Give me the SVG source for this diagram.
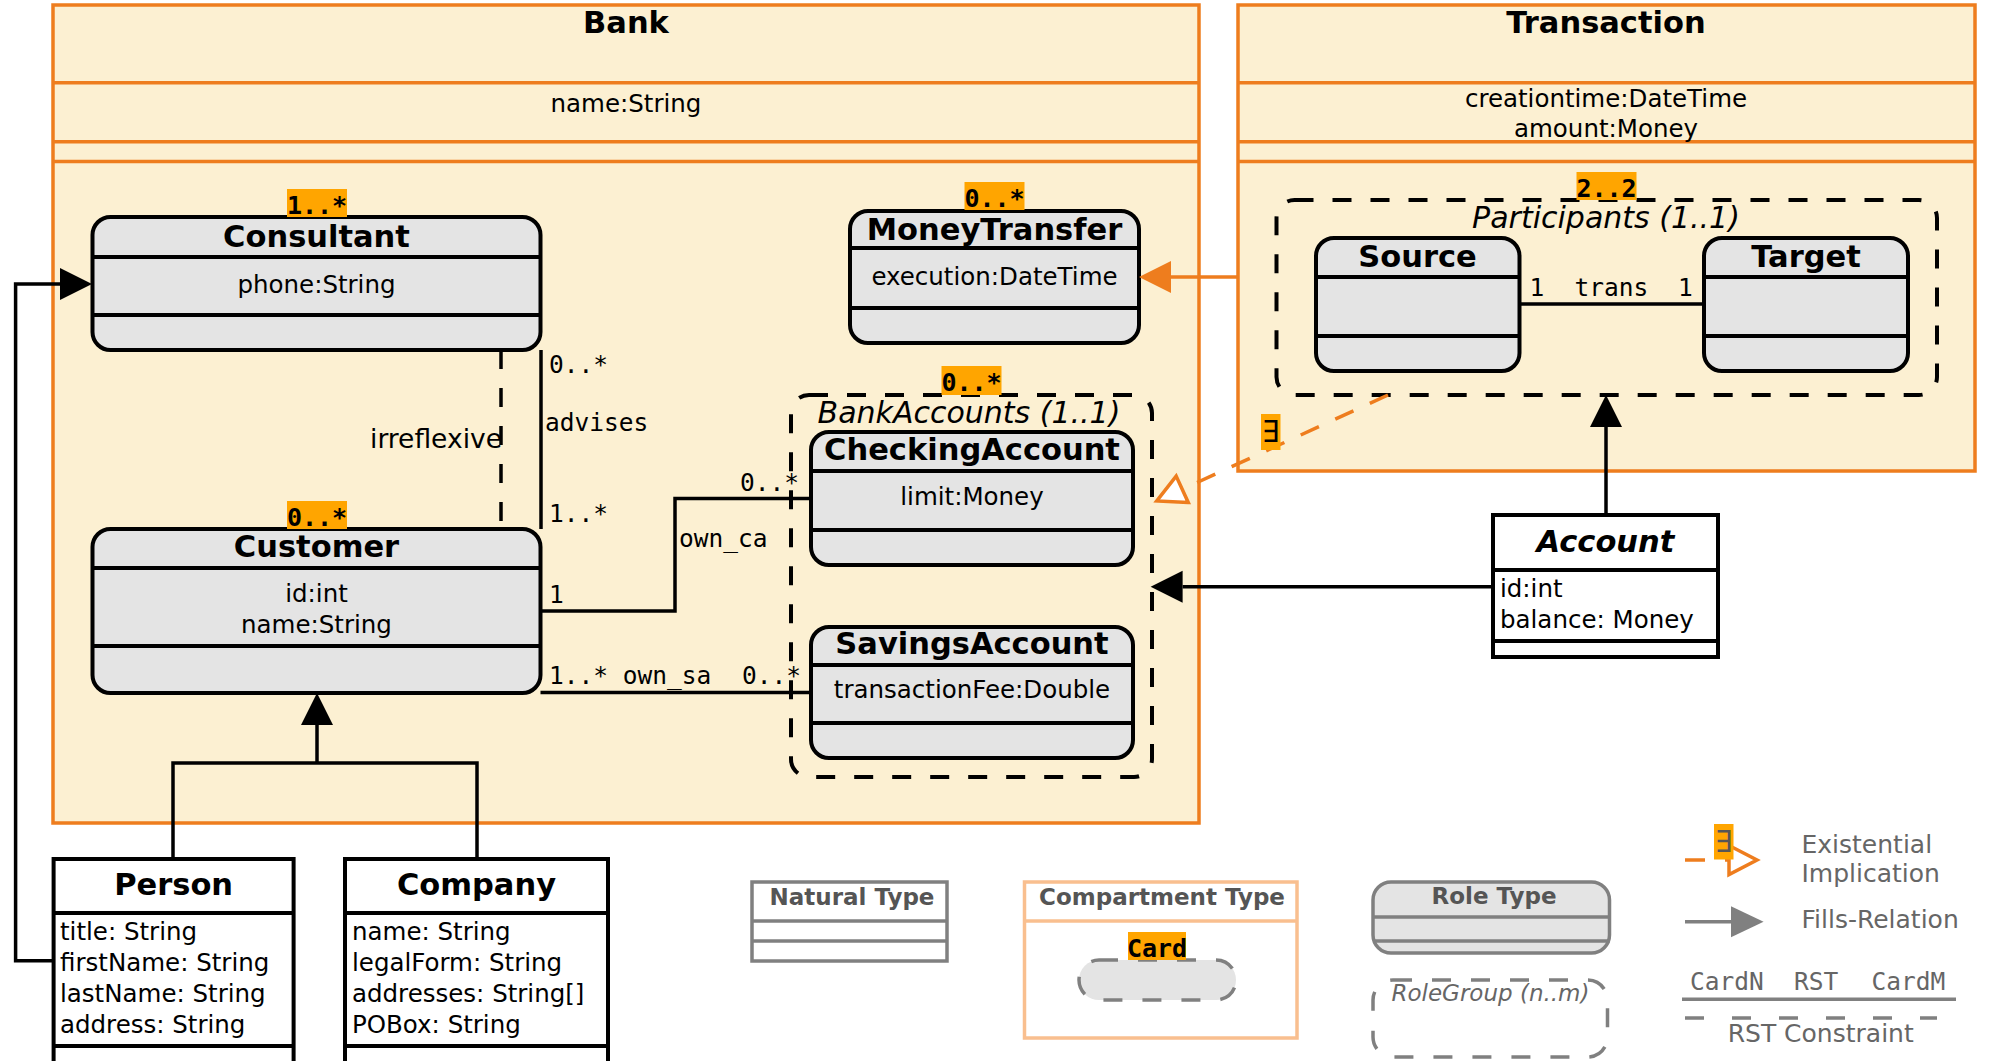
<svg xmlns="http://www.w3.org/2000/svg" width="1989" height="1061" viewBox="0 0 1989 1061">
<style>
.comp{fill:#FCF0D2;stroke:#EE7D1E;stroke-width:3.5}
.osep{stroke:#EE7D1E;stroke-width:3.5}
.role{fill:#E4E4E4;stroke:#000;stroke-width:4}
.nat{fill:#fff;stroke:#000;stroke-width:4}
.sep{stroke:#000;stroke-width:4}
.grp{fill:none;stroke:#000;stroke-width:4;stroke-dasharray:19 19}
.title{font-family:'DejaVu Sans',sans-serif;font-weight:bold;font-size:30.5px;text-anchor:middle;fill:#000}
.attr{font-family:'DejaVu Sans',sans-serif;font-size:24.5px;fill:#000}
.mid{text-anchor:middle}
.ital{font-family:'DejaVu Sans',sans-serif;font-style:italic;font-size:30px;text-anchor:middle;fill:#000}
.mono{font-family:'DejaVu Sans Mono',monospace;font-size:24.5px;fill:#000}
.card{font-family:'DejaVu Sans Mono',monospace;font-weight:bold;font-size:25px;text-anchor:middle;fill:#000}
.cardbg{fill:#FFA500}
.line{fill:none;stroke:#000;stroke-width:3.5}
.dash{stroke-dasharray:19 19}
.oline{fill:none;stroke:#EE7D1E;stroke-width:3.5}
.gline{fill:none;stroke:#808080;stroke-width:3.5}
.lgbox{fill:#fff;stroke:#808080;stroke-width:3.5}
.lgsep{stroke:#808080;stroke-width:3.5}
.lgtitle{font-family:'DejaVu Sans',sans-serif;font-weight:bold;font-size:23px;text-anchor:middle;fill:#555}
.lgtext{font-family:'DejaVu Sans',sans-serif;font-size:25px;fill:#666}
</style>
<defs>
<marker id="fillBlack" markerUnits="userSpaceOnUse" viewBox="0 -16 32 32" refX="0" refY="0" markerWidth="32" markerHeight="32" orient="auto" overflow="visible"><path d="M0,-16 L32,0 L0,16 z" fill="#000"/></marker>
<marker id="fillOrange" markerUnits="userSpaceOnUse" viewBox="0 -16 32 32" refX="0" refY="0" markerWidth="32" markerHeight="32" orient="auto" overflow="visible"><path d="M0,-16 L32,0 L0,16 z" fill="#EE7D1E"/></marker>
<marker id="fillGray" markerUnits="userSpaceOnUse" viewBox="0 -16 33 32" refX="0" refY="0" markerWidth="33" markerHeight="32" orient="auto" overflow="visible"><path d="M0,-15.5 L32.6,0 L0,15.5 z" fill="#808080"/></marker>
<marker id="openOrange" markerUnits="userSpaceOnUse" viewBox="-4 -19 36 38" refX="0" refY="0" markerWidth="36" markerHeight="38" orient="auto" overflow="visible"><path d="M0,-14.5 L28,0 L0,14.5 z" fill="#fff" stroke="#EE7D1E" stroke-width="3.5"/></marker>
</defs>

<g id="bank">
<rect class="comp" x="53" y="5" width="1146" height="818"/>
<line class="osep" x1="53" y1="82.7" x2="1199" y2="82.7"/>
<line class="osep" x1="53" y1="141.7" x2="1199" y2="141.7"/>
<line class="osep" x1="53" y1="161.5" x2="1199" y2="161.5"/>
<text class="title" x="626" y="33">Bank</text>
<text class="attr mid" x="626" y="112">name:String</text>
</g>

<g id="transaction">
<rect class="comp" x="1238" y="5" width="737" height="466"/>
<line class="osep" x1="1238" y1="82.7" x2="1975" y2="82.7"/>
<line class="osep" x1="1238" y1="141.7" x2="1975" y2="141.7"/>
<line class="osep" x1="1238" y1="161.5" x2="1975" y2="161.5"/>
<text class="title" x="1606" y="33">Transaction</text>
<text class="attr mid" x="1606" y="107">creationtime:DateTime</text>
<text class="attr mid" x="1606" y="137">amount:Money</text>
</g>

<g id="consultant">
<rect class="role" x="92.5" y="217" width="448" height="133" rx="18"/>
<line class="sep" x1="92.5" y1="257" x2="540.5" y2="257"/>
<line class="sep" x1="92.5" y1="315" x2="540.5" y2="315"/>
<text class="title" x="316.5" y="247">Consultant</text>
<text class="attr mid" x="316.5" y="293">phone:String</text>
<rect class="cardbg" x="287" y="189" width="60" height="28"/>
<text class="card" x="317" y="213.5">1..*</text>
</g>

<g id="customer">
<rect class="role" x="92.5" y="529" width="448" height="164" rx="18"/>
<line class="sep" x1="92.5" y1="568" x2="540.5" y2="568"/>
<line class="sep" x1="92.5" y1="646" x2="540.5" y2="646"/>
<text class="title" x="316.5" y="557">Customer</text>
<text class="attr mid" x="316.5" y="602">id:int</text>
<text class="attr mid" x="316.5" y="633">name:String</text>
<rect class="cardbg" x="287" y="501" width="60" height="28"/>
<text class="card" x="317" y="525.5">0..*</text>
</g>

<g id="moneytransfer">
<rect class="role" x="850" y="211" width="289" height="132" rx="18"/>
<line class="sep" x1="850" y1="248" x2="1139" y2="248"/>
<line class="sep" x1="850" y1="308" x2="1139" y2="308"/>
<text class="title" x="994.5" y="240">MoneyTransfer</text>
<text class="attr mid" x="994.5" y="285">execution:DateTime</text>
<rect class="cardbg" x="964.5" y="182" width="60" height="28"/>
<text class="card" x="994.5" y="206.5">0..*</text>
</g>

<g id="bankaccounts">
<rect class="grp" x="791" y="395" width="361" height="382" rx="18"/>
<text class="ital" x="969" y="423">BankAccounts (1..1)</text>
<rect class="cardbg" x="941.5" y="366" width="60" height="29"/>
<text class="card" x="971.5" y="391">0..*</text>
</g>

<g id="checkingaccount">
<rect class="role" x="811" y="432" width="322" height="133" rx="18"/>
<line class="sep" x1="811" y1="471" x2="1133" y2="471"/>
<line class="sep" x1="811" y1="530" x2="1133" y2="530"/>
<text class="title" x="972" y="460">CheckingAccount</text>
<text class="attr mid" x="972" y="505">limit:Money</text>
</g>

<g id="savingsaccount">
<rect class="role" x="811" y="627" width="322" height="131" rx="18"/>
<line class="sep" x1="811" y1="665" x2="1133" y2="665"/>
<line class="sep" x1="811" y1="723" x2="1133" y2="723"/>
<text class="title" x="972" y="654">SavingsAccount</text>
<text class="attr mid" x="972" y="698">transactionFee:Double</text>
</g>

<g id="participants">
<rect class="grp" x="1276.5" y="200" width="660.5" height="195" rx="18"/>
<text class="ital" x="1606" y="228">Participants (1..1)</text>
<rect class="cardbg" x="1576.5" y="172" width="60" height="28"/>
<text class="card" x="1606.5" y="196.5">2..2</text>
</g>

<g id="source">
<rect class="role" x="1316" y="238" width="203.5" height="133" rx="18"/>
<line class="sep" x1="1316" y1="277" x2="1519.5" y2="277"/>
<line class="sep" x1="1316" y1="336" x2="1519.5" y2="336"/>
<text class="title" x="1417.5" y="267">Source</text>
</g>

<g id="target">
<rect class="role" x="1704" y="238" width="204" height="133" rx="18"/>
<line class="sep" x1="1704" y1="277" x2="1908" y2="277"/>
<line class="sep" x1="1704" y1="336" x2="1908" y2="336"/>
<text class="title" x="1806" y="267">Target</text>
</g>

<g id="account">
<rect class="nat" x="1493" y="515" width="225" height="142"/>
<line class="sep" x1="1493" y1="570" x2="1718" y2="570"/>
<line class="sep" x1="1493" y1="641" x2="1718" y2="641"/>
<text class="title" x="1605.5" y="552" font-style="italic">Account</text>
<text class="attr" x="1500" y="597">id:int</text>
<text class="attr" x="1500" y="628">balance: Money</text>
</g>

<g id="person">
<rect class="nat" x="53.6" y="859" width="240" height="205"/>
<line class="sep" x1="53.6" y1="913" x2="293.6" y2="913"/>
<line class="sep" x1="53.6" y1="1046" x2="293.6" y2="1046"/>
<text class="title" x="173.6" y="895">Person</text>
<text class="attr" x="60" y="940">title: String</text>
<text class="attr" x="60" y="971">firstName: String</text>
<text class="attr" x="60" y="1002">lastName: String</text>
<text class="attr" x="60" y="1033">address: String</text>
</g>

<g id="company">
<rect class="nat" x="345" y="859" width="263" height="205"/>
<line class="sep" x1="345" y1="913" x2="608" y2="913"/>
<line class="sep" x1="345" y1="1046" x2="608" y2="1046"/>
<text class="title" x="476.5" y="895">Company</text>
<text class="attr" x="352" y="940">name: String</text>
<text class="attr" x="352" y="971">legalForm: String</text>
<text class="attr" x="352" y="1002">addresses: String[]</text>
<text class="attr" x="352" y="1033">POBox: String</text>
</g>

<g id="connectors">
<path class="line" d="M53.6,960.7 H15.6 V284 H60" marker-end="url(#fillBlack)"/>
<path class="line" d="M173,859 V763 H477 V859"/>
<path class="line" d="M317,763 V725" marker-end="url(#fillBlack)"/>
<path class="oline" d="M1238,277 H1171" marker-end="url(#fillOrange)"/>
<path class="line" d="M1606,515 V427" marker-end="url(#fillBlack)"/>
<path class="line" d="M1493,586.7 H1182.6" marker-end="url(#fillBlack)"/>
<path class="oline" d="M1388,395 L1182.2,489.3" stroke-dasharray="20 18" marker-end="url(#openOrange)"/>
<rect class="cardbg" x="1261" y="414" width="19.5" height="36"/>
<text x="1270.7" y="442" font-family="'DejaVu Sans Mono',monospace" font-size="30" text-anchor="middle" fill="#000">∃</text>
<path class="line" d="M541,350 V529"/>
<text class="mono" x="549" y="373">0..*</text>
<text class="mono" x="545" y="431">advises</text>
<text class="mono" x="549" y="522">1..*</text>
<path class="line dash" d="M501,350 V529"/>
<text x="502" y="448" font-family="'DejaVu Sans',sans-serif" font-size="26.5" text-anchor="end" fill="#000">irreflexive</text>
<path class="line" d="M540.5,611 H675 V498.5 H811"/>
<text class="mono" x="549" y="603">1</text>
<text class="mono" x="679" y="547">own_ca</text>
<text class="mono" x="740" y="490.5">0..*</text>
<path class="line" d="M540.5,692.5 H811"/>
<text class="mono" x="549" y="683.5">1..* own_sa</text>
<text class="mono" x="742" y="683.5">0..*</text>
<path class="line" d="M1519.5,304 H1704"/>
<text class="mono" x="1529.5" y="296">1</text>
<text class="mono" x="1574.5" y="296">trans</text>
<text class="mono" x="1678" y="296">1</text>
</g>

<g id="legend">
<g id="legend-natural">
<rect class="lgbox" x="752" y="882" width="195" height="79"/>
<line class="lgsep" x1="752" y1="921" x2="947" y2="921"/>
<line class="lgsep" x1="752" y1="941" x2="947" y2="941"/>
<text class="lgtitle" x="852" y="905">Natural Type</text>
</g>
<g id="legend-compartment">
<rect x="1024.5" y="882" width="272.5" height="156" fill="#fff" stroke="#F9BF8F" stroke-width="3.5"/>
<line x1="1024.5" y1="921" x2="1297" y2="921" stroke="#F9BF8F" stroke-width="3.5"/>
<text class="lgtitle" x="1162" y="905">Compartment Type</text>
<rect x="1079" y="960" width="157" height="40" rx="20" fill="#E4E4E4" stroke="#808080" stroke-width="3.5" stroke-dasharray="19 20"/>
<rect class="cardbg" x="1128" y="932" width="58" height="28"/>
<text class="card" x="1157" y="956.5">Card</text>
</g>
<g id="legend-role">
<rect x="1373" y="882" width="236.5" height="71" rx="18" fill="#E4E4E4" stroke="#808080" stroke-width="3.5"/>
<line class="lgsep" x1="1373" y1="917" x2="1609.5" y2="917"/>
<line class="lgsep" x1="1373" y1="941" x2="1609.5" y2="941"/>
<text class="lgtitle" x="1494" y="904">Role Type</text>
</g>
<g id="legend-rolegroup">
<rect x="1373" y="980" width="234.5" height="77" rx="20" fill="none" stroke="#808080" stroke-width="3.5" stroke-dasharray="19 20"/>
<text x="1490.5" y="1001" font-family="'DejaVu Sans',sans-serif" font-style="italic" font-size="23" text-anchor="middle" fill="#666">RoleGroup (n..m)</text>
</g>
<g id="legend-existential">
<path class="oline" d="M1685,860 H1729" stroke-dasharray="20 20" marker-end="url(#openOrange)"/>
<rect class="cardbg" x="1714" y="824" width="19.5" height="35.5"/>
<text x="1723.7" y="852" font-family="'DejaVu Sans Mono',monospace" font-size="30" text-anchor="middle" fill="#555">∃</text>
<text class="lgtext" x="1801.5" y="853">Existential</text>
<text class="lgtext" x="1801.5" y="882">Implication</text>
</g>
<g id="legend-fills">
<path class="gline" d="M1685,921.7 H1731" marker-end="url(#fillGray)"/>
<text class="lgtext" x="1801.5" y="928">Fills-Relation</text>
</g>
<g id="legend-rst">
<text font-family="'DejaVu Sans Mono',monospace" font-size="24.5" fill="#666" y="990"><tspan x="1690">CardN</tspan><tspan x="1794">RST</tspan><tspan x="1871.5">CardM</tspan></text>
<line class="gline" x1="1682" y1="999.3" x2="1956" y2="999.3"/>
<line class="gline" x1="1685" y1="1018" x2="1937" y2="1018" stroke-dasharray="19 28"/>
<text class="lgtext" x="1820.7" y="1042" text-anchor="middle">RST Constraint</text>
</g>
</g>
</svg>
